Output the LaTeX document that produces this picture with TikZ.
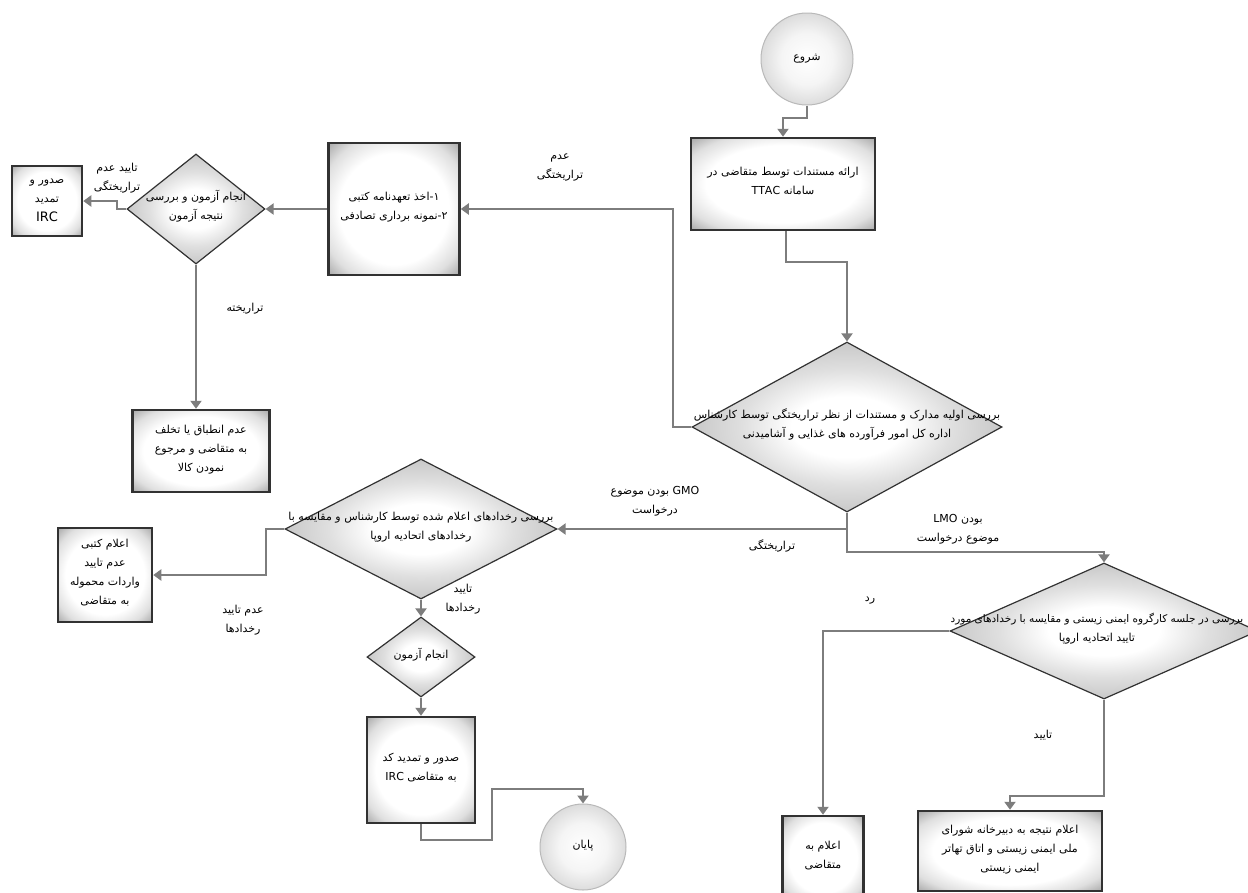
\documentclass[tikz,border=0pt]{standalone}
\usepackage{fontspec}
\newfontfamily\arabicfont[Script=Arabic]{DejaVu Sans}
\TeXXeTstate=1
\usetikzlibrary{shapes.geometric,arrows.meta}
\newcommand\RL[1]{\beginR #1\endR}
\newcommand\zt[1]{\smash{\makebox[0pt]{\begin{tabular}{@{}c@{}}#1\end{tabular}}}}
\newcommand\ztl[2]{\smash{\makebox[0pt]{\hspace*{#1}\begin{tabular}{@{}c@{}}#2\end{tabular}}}}
\newcommand\tf{\arabicfont\fontsize{11}{19}\selectfont}
\definecolor{lc}{RGB}{125,125,125}
\definecolor{bd}{RGB}{50,50,50}
\pgfdeclareradialshading{vign}{\pgfpoint{0bp}{0bp}}{color(0bp)=(white); color(21bp)=(white); color(29bp)=(gray!25); color(35bp)=(gray!65); color(50bp)=(gray!80)}
\pgfdeclareradialshading{diash}{\pgfpoint{0bp}{0bp}}{color(0bp)=(white); color(9bp)=(white); color(17bp)=(gray!25); color(26bp)=(gray!45); color(35bp)=(gray!80); color(50bp)=(gray!85)}
\pgfdeclareradialshading{circsh}{\pgfpoint{0bp}{0bp}}{color(0bp)=(white); color(14bp)=(gray!8); color(35bp)=(gray!45); color(50bp)=(gray!45)}
\tikzset{
  conn/.style={draw=lc, line width=2pt, -{Triangle[width=11pt,length=8pt]}},
  plain/.style={draw=lc, line width=2pt},
  boxn/.style={rectangle, draw=bd, line width=2.5pt, inner sep=0pt, shade, shading=vign, font=\tf},
  dian/.style={diamond, draw=bd, line width=1.2pt, inner sep=0pt, shade, shading=diash, font=\tf},
  circn/.style={circle, draw=gray!55, line width=1pt, inner sep=0pt, shade, shading=circsh, font=\tf},
  lab/.style={inner sep=0pt, font=\tf}
}
\begin{document}
\begin{tikzpicture}[x=1pt,y=-1pt]
\useasboundingbox[fill=white] (0,0) rectangle (1248,892);
% nodes
\node[circn, minimum size=92] (start) at (807,59) {\zt{\RL{شروع}}};
\node[boxn, minimum width=184, minimum height=92] (b1) at (783,184)
  {\zt{\RL{ارائه مستندات توسط متقاضی در}\\\RL{سامانه \beginL TTAC\endL}}};
\node[dian, minimum width=310, minimum height=170] (d1) at (847,427)
  {\zt{\RL{بررسی اولیه مدارک و مستندات از نظر تراریختگی توسط کارشناس}\\\RL{اداره کل امور فرآورده های غذایی و آشامیدنی}}};
\node[boxn, minimum width=131, minimum height=132] (b2) at (394,209)
  {\zt{\RL{۱-اخذ تعهدنامه کتبی}\\\RL{۲-نمونه برداری تصادفی}}};
\node[dian, minimum width=138, minimum height=110] (d2) at (196,209)
  {\zt{\RL{انجام آزمون و بررسی}\\\RL{نتیجه آزمون}}};
\node[boxn, minimum width=70, minimum height=70] (b3) at (47,201)
  {\zt{\RL{صدور و}\\\RL{تمدید}\\{\fontsize{13}{19}\selectfont IRC}}};
\node[boxn, minimum width=137, minimum height=82] (b4) at (201,451)
  {\zt{\RL{عدم انطباق یا تخلف}\\\RL{به متقاضی و مرجوع}\\\RL{نمودن کالا}}};
\node[dian, minimum width=272, minimum height=140] (d4) at (421,529)
  {\zt{\RL{بررسی رخدادهای اعلام شده توسط کارشناس و مقایسه با}\\\RL{رخدادهای اتحادیه اروپا}}};
\node[boxn, minimum width=94, minimum height=94] (b7) at (105,575)
  {\zt{\fontsize{11}{18}\selectfont\RL{اعلام کتبی}\\\RL{عدم تایید}\\\RL{واردات محموله}\\\RL{به متقاضی}}};
\node[dian, minimum width=108, minimum height=80] (d5) at (421,657) {\zt{\RL{انجام آزمون}}};
\node[boxn, minimum width=108, minimum height=106] (b8) at (421,770)
  {\zt{\RL{صدور و تمدید کد}\\\RL{به متقاضی \beginL IRC\endL}}};
\node[circn, minimum size=86] (end) at (583,847) {\zt{\RL{پایان}}};
\node[dian, minimum width=308, minimum height=136] (d3) at (1104,631)
  {\ztl{-14pt}{\fontsize{10.5}{19}\selectfont\RL{بررسی در جلسه کارگروه ایمنی زیستی و مقایسه با رخدادهای مورد}\\\RL{تایید اتحادیه اروپا}}};
\node[boxn, minimum width=81, minimum height=84] (b5) at (823,858)
  {\zt{\RL{اعلام به}\\\RL{متقاضی}}};
\node[boxn, minimum width=184, minimum height=80] (b6) at (1010,851)
  {\zt{\RL{اعلام نتیجه به دبیرخانه شورای}\\\RL{ملی ایمنی زیستی و اتاق تهاتر}\\\RL{ایمنی زیستی}}};
% labels
\node[lab] (l1) at (560,168) {\zt{\RL{عدم}\\\RL{تراریختگی}}};
\node[lab] (l2) at (117,180) {\zt{\fontsize{11}{17}\selectfont\RL{تایید عدم}\\\RL{تراریختگی}}};
\node[lab] (l3) at (245,310) {\zt{\RL{تراریخته}}};
\node[lab] (l4) at (655,503) {\zt{\RL{\beginL GMO\endL{} بودن موضوع}\\\RL{درخواست}}};
\node[lab] (l5) at (772,548) {\zt{\RL{تراریختگی}}};
\node[lab] (l6) at (958,531) {\zt{\RL{بودن \beginL LMO\endL}\\\RL{موضوع درخواست}}};
\node[lab] (l7) at (243,622) {\zt{\RL{عدم تایید}\\\RL{رخدادها}}};
\node[lab] (l8) at (463,601) {\zt{\RL{تایید}\\\RL{رخدادها}}};
\node[lab] (l9) at (870,600) {\zt{\RL{رد}}};
\node[lab] (l10) at (1043,737) {\zt{\RL{تایید}}};
% connectors
\draw[conn] (start.south) -- ++(0,12) -| (b1.north);
\draw[conn] ([xshift=3pt]b1.south) -- ++(0,31) -| (d1.north);
\draw[conn] (d1.west) -- ++(-18,0) |- (b2.east);
\draw[conn] (b2.west) -- (d2.east);
\draw[conn] (d2.west) -- ++(-9,0) |- (b3.east);
\draw[conn] (d2.south) -- (d2.south |- b4.north);
\coordinate (j1) at (d1.south |- d4.east);
\draw[plain] (d1.south) -- (j1);
\draw[conn] (j1) -- (d4.east);
\draw[conn] (j1) -- ++(0,23) -| (d3.north);
\draw[conn] (d4.west) -- ++(-18,0) |- (b7.east);
\draw[conn] (d4.south) -- (d5.north);
\draw[conn] (d5.south) -- (b8.north);
\draw[conn] (b8.south) -- ++(0,16) -- ++(71,0) -- ++(0,-51) -| (end.north);
\draw[conn] (d3.west) -| (b5.north);
\draw[conn] (d3.south) -- ++(0,96) -| (b6.north);
\end{tikzpicture}
\end{document}
